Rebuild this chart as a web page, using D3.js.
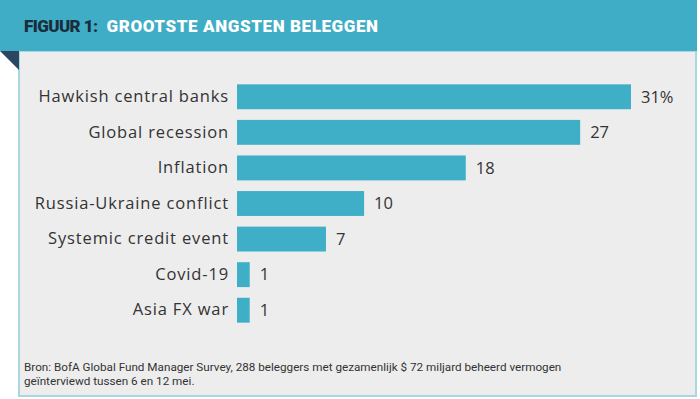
<html>
<script src='https://d3js.org/d3.v7.min.js'></script>
<style>
  body {margin: 0; background: #fff;}
  text {font-family: 'Open Sans', sans-serif;}
</style>
<body>
<svg width=700 height=399></svg>
<script>
var categories = ["Hawkish central banks", "Global recession", "Inflation", "Russia-Ukraine conflict",
                  "Systemic credit event", "Covid-19", "Asia FX war"];
var values = [31, 27, 18, 10, 7, 1, 1];
var valueLabels = ["31%", "27", "18", "10", "7", "1", "1"];

var svg = d3.select("svg");

// panel + header
svg.append("rect").attr("x", 19).attr("y", 51).attr("width", 677).attr("height", 345)
   .attr("fill", "#ededed").attr("stroke", "#a9d6df").attr("stroke-width", 2);
svg.append("rect").attr("x", 0).attr("y", 0).attr("width", 697).attr("height", 51).attr("fill", "#3fadc6");
svg.append("path").attr("d", "M0,51 L19,51 L19,70 Z").attr("fill", "#2b4660");

var title = svg.append("text").attr("x", 24).attr("y", 32)
   .style("font-family", "Roboto, sans-serif").style("font-weight", "900").style("font-size", "17px");
title.append("tspan").attr("fill", "#1b2d3c").style("letter-spacing", "-0.6px").text("FIGUUR 1:");
title.append("tspan").attr("fill", "#fff").attr("dx", 9).style("letter-spacing", "0.6px").text("GROOTSTE ANGSTEN BELEGGEN");

var x = d3.scaleLinear().domain([0, 31]).range([0, 394]);
var y = d3.scaleBand().domain(categories).range([79, 328]).paddingInner(0.3).paddingOuter(0.15);

var g = svg.append("g").attr("transform", "translate(237,0)");

g.selectAll("rect").data(values).enter().append("rect")
 .attr("x", 0)
 .attr("y", function(d, i){ return y(categories[i]); })
 .attr("width", function(d){ return x(d); })
 .attr("height", y.bandwidth())
 .attr("fill", "#3fafc8");

g.selectAll("text.val").data(values).enter().append("text")
 .attr("class", "val")
 .attr("x", function(d){ return x(d) + 10; })
 .attr("y", function(d, i){ return y(categories[i]) + y.bandwidth() / 2; })
 .attr("dy", "0.35em")
 .attr("fill", "#333")
 .style("font-size", "16.5px")
 .text(function(d, i){ return valueLabels[i]; });

var yAxis = d3.axisLeft(y).tickSize(0).tickPadding(8);
g.append("g").call(yAxis)
 .call(function(a){ a.select(".domain").remove(); })
 .selectAll("text").attr("fill", "#333").style("font-size", "16.5px")
 .style("letter-spacing", "0.85px").style("font-family", "'Open Sans', sans-serif");

var foot = svg.append("text").attr("x", 24).attr("y", 371).attr("fill", "#333")
   .style("font-size", "11.7px").style("font-family", "Roboto, sans-serif");
foot.append("tspan").attr("x", 24).text("Bron: BofA Global Fund Manager Survey, 288 beleggers met gezamenlijk $ 72 miljard beheerd vermogen");
foot.append("tspan").attr("x", 24).attr("dy", 14).text("geïnterviewd tussen 6 en 12 mei.");
</script>
</body>
</html>
